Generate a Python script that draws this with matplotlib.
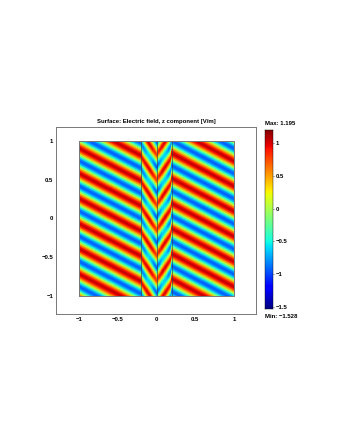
import numpy as np
import matplotlib
matplotlib.use("Agg")
import matplotlib.pyplot as plt
from matplotlib.patches import Rectangle

plt.rcParams['font.family'] = ['Liberation Sans', 'DejaVu Sans']

### values ###
field_min = -1.528
field_max = 1.195
title = "Surface: Electric field, z component [V/m]"
x_ticks = [-1, -0.5, 0, 0.5, 1]
y_ticks = [-1, -0.5, 0, 0.5, 1]
tick_labels = ["\u22121", "\u22120.5", "0", "0.5", "1"]
cbar_ticks = [-1.5, -1, -0.5, 0, 0.5, 1]
cbar_labels = ["\u22121.5", "\u22121", "\u22120.5", "0", "0.5", "1"]
wall_x = [-0.2, 0, 0.2]

# distance between two red stripes, measured along a column
stripe_period = 0.3243
# the stripes as seen along one column, from a crest down to the next one
stripe_profile = [1.05, .9, .55, .05, -.45, -.8, -.95, -.8, -.45, .05, .55, .9]
wall_profile = [.95, .8, .45, .05, -.4, -.7, -.85, -.7, -.4, .05, .45, .8]
arm_profile = [1.0, .85, .5, .1, -.3, -.55, -.65, -.55, -.3, .1, .5, .85]
inner_profile = [.9, .75, .4, 0, -.4, -.7, -.85, -.7, -.4, 0, .4, .75]
apex_profile = [.75, .65, .35, -.05, -.45, -.8, -1.0, -.8, -.45, -.05, .35, .65]

# x of each column, and y of one red crest in that column
column_x = [-1, -0.2, -0.198, -0.16, -0.12, -0.08, -0.04, 0,
            0.04, 0.08, 0.12, 0.16, 0.198, 0.2, 1]
crest_y = [1.551, 1.133, 1.116, 1.052, 0.994, 0.935, 0.877, 0.819,
           0.877, 0.935, 0.994, 1.052, 1.116, 1.161, 0.737]
column_profile = [stripe_profile, stripe_profile, wall_profile, wall_profile, arm_profile,
                  arm_profile, inner_profile, apex_profile, inner_profile, arm_profile,
                  arm_profile, wall_profile, wall_profile, stripe_profile, stripe_profile]

rows = np.arange(0, 156)
X = np.array([[x] * len(rows) for x in column_x]).T
Y = np.array([c + stripe_period * 3 - stripe_period * rows / 12 for c in crest_y]).T
field = np.array([[p[r % 12] for r in rows] for p in column_profile]).T

W, H = 340, 440
fig = plt.figure(figsize=(W / 100, H / 100), dpi=100)

### main plot ###
ax = fig.add_axes([56 / W, 1 - 314 / H, 200 / W, 187 / H])
mesh = ax.pcolormesh(X, Y, field, shading='gouraud', cmap='jet',
                     vmin=field_min, vmax=field_max)
mesh.set_clip_path(Rectangle((-1, -1), 2, 2, transform=ax.transData))
for x in wall_x:
    ax.plot([x, x], [-1, 1], color='#2f4a50', lw=0.6, alpha=0.8)
ax.plot([-1, 1, 1, -1, -1], [-1, -1, 1, 1, -1], color='#777777', lw=0.7)
ax.set_xlim(-1.297, 1.284)
ax.set_ylim(-1.232, 1.18)
ax.set_xticks(x_ticks, tick_labels)
ax.set_yticks(y_ticks, tick_labels)
ax.tick_params(length=0, labelsize=4.3, pad=2)
for lab in ax.get_xticklabels() + ax.get_yticklabels():
    lab.set_fontweight('bold')
for s in ax.spines.values():
    s.set_color('#777777')
    s.set_linewidth(0.7)
ax.set_title(title, fontsize=4.3, fontweight='bold', pad=3)

### colorbar ###
cax = fig.add_axes([265 / W, 1 - 309 / H, 8 / W, 179 / H])
gradient = np.linspace(field_min, field_max, 256).reshape(-1, 1)
cax.imshow(gradient, aspect='auto', origin='lower', cmap='jet',
           extent=[0, 1, field_min, field_max])
cax.set_xticks([])
cax.yaxis.tick_right()
cax.set_yticks(cbar_ticks, cbar_labels)
cax.tick_params(length=1, width=0.4, labelsize=4.3, pad=1)
for lab in cax.get_yticklabels():
    lab.set_fontweight('bold')
for s in cax.spines.values():
    s.set_linewidth(0.3)
fig.text(265 / W, 1 - 123.5 / H, "Max: %.3f" % field_max, fontsize=4.3, fontweight='bold', va='center')
fig.text(265 / W, 1 - 316.5 / H, "Min: \u2212%.3f" % abs(field_min), fontsize=4.3, fontweight='bold', va='center')

fig.savefig("out.png", dpi=100)
